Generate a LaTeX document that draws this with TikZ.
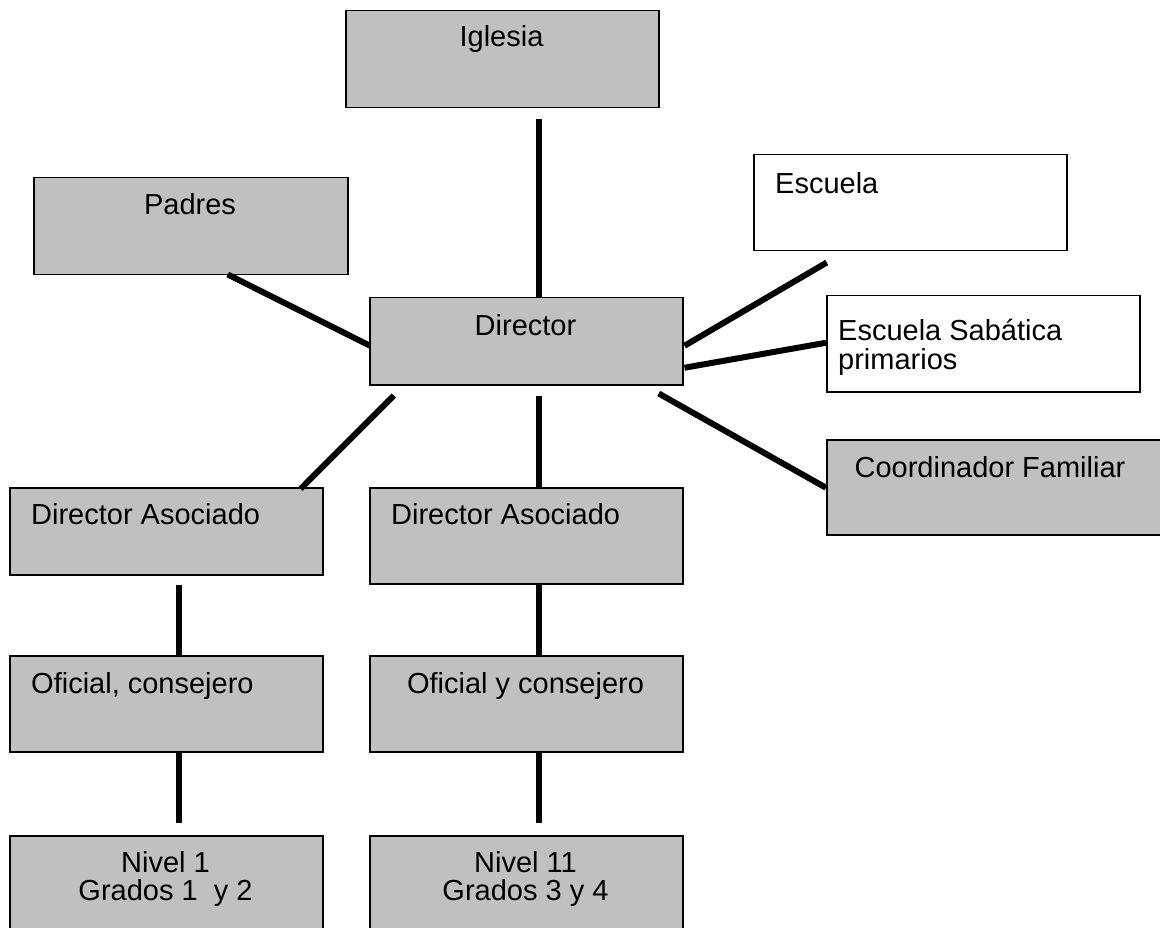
\documentclass[tikz,border=0pt]{standalone}
\usepackage{fontspec}
\setmainfont{Liberation Sans}
\usetikzlibrary{calc}
\definecolor{boxgray}{HTML}{C0C0C0}
\begin{document}
\begin{tikzpicture}[x=1pt,y=-1pt,
  box/.style={draw=black, line width=1.5pt, fill=boxgray, rectangle, inner sep=0pt, anchor=north west, minimum width=313pt, minimum height=96pt},
  wbox/.style={box, fill=white},
  txt/.style={inner sep=0pt, font=\fontsize{29}{30}\selectfont, anchor=base},
  ltxt/.style={txt, anchor=base west},
  conn/.style={line width=6pt, black}]
\useasboundingbox (0,0) rectangle (1160,928);
\clip (0,0) rectangle (1160,928);
\fill[white] (0,0) rectangle (1160,928);

% boxes
\node[box, minimum height=97pt] (igl) at (345,10) {};
\node[box, minimum width=314pt, minimum height=97pt] (pad) at (33,177) {};
\node[wbox] (esc) at (753,154) {};
\node[box, minimum height=87pt] (dir) at (369,297) {};
\node[wbox] (esa) at (826,295) {};
\node[box, minimum width=345pt, minimum height=95pt] (coord) at (826,439) {};
\node[box, minimum height=87pt] (da1) at (9,487) {};
\node[box] (da2) at (369,487) {};
\node[box] (of1) at (9,655) {};
\node[box] (of2) at (369,655) {};
\node[box, minimum height=110pt] (n1) at (9,835) {};
\node[box, minimum height=110pt] (n2) at (369,835) {};

% texts
\node[txt] (iglt) at (501.5,47) {Iglesia};
\node[txt] (padt) at (190,215) {Padres};
\node[ltxt] (esct) at (775,194) {Escuela};
\node[txt] (dirt) at (525.5,335) {Director};
\node[ltxt] (esat1) at (838,340) {Escuela Sabática};
\node[ltxt] (esat2) at (838,369) {primarios};
\node[txt] (coordt) at (990,477) {Coordinador Familiar};
\node[ltxt] (da1t) at (31,524) {Director Asociado};
\node[ltxt] (da2t) at (391,524) {Director Asociado};
\node[ltxt] (of1t) at (31,693) {Oficial, consejero};
\node[txt] (of2t) at (525.5,693) {Oficial y consejero};
\node[txt] (n1t1) at (165.5,872) {Nivel 1};
\node[txt] (n1t2) at (165.5,900) {Grados 1\ \ y 2};
\node[txt] (n2t1) at (525.5,872) {Nivel 11};
\node[txt] (n2t2) at (525.5,900) {Grados 3 y 4};

% connectors
\draw[conn] ($(igl.south)+(36.5,11)$) -- ($(dir.north)+(12.5,0)$);
\draw[conn] ($(pad.south)+(37,-1)$) -- ($(dir.west)+(1,4.5)$);
\draw[conn] ($(esc.south)+(-83.5,11)$) -- ($(dir.east)+(1,4.5)$);
\draw[conn] ($(esa.west)+(0,-1)$) -- ($(dir.east)+(1,26.5)$);
\draw[conn] ($(dir.south)+(132.5,8)$) -- ($(coord.west)+(0,0.5)$);
\draw[conn] ($(dir.south)+(-132.5,10)$) -- ($(da1.north east)+(-23,2)$);
\draw[conn] ($(dir.south)+(12.5,10)$) -- ($(da2.north)+(12.5,0)$);
\draw[conn] ($(da1.south)+(12.5,9)$) -- ($(of1.north)+(12.5,0)$);
\draw[conn] ($(da2.south)+(12.5,0)$) -- ($(of2.north)+(12.5,0)$);
\draw[conn] ($(of1.south)+(12.5,0)$) -- ($(n1.north)+(12.5,-12)$);
\draw[conn] ($(of2.south)+(12.5,0)$) -- ($(n2.north)+(12.5,-12)$);
\end{tikzpicture}
\end{document}
